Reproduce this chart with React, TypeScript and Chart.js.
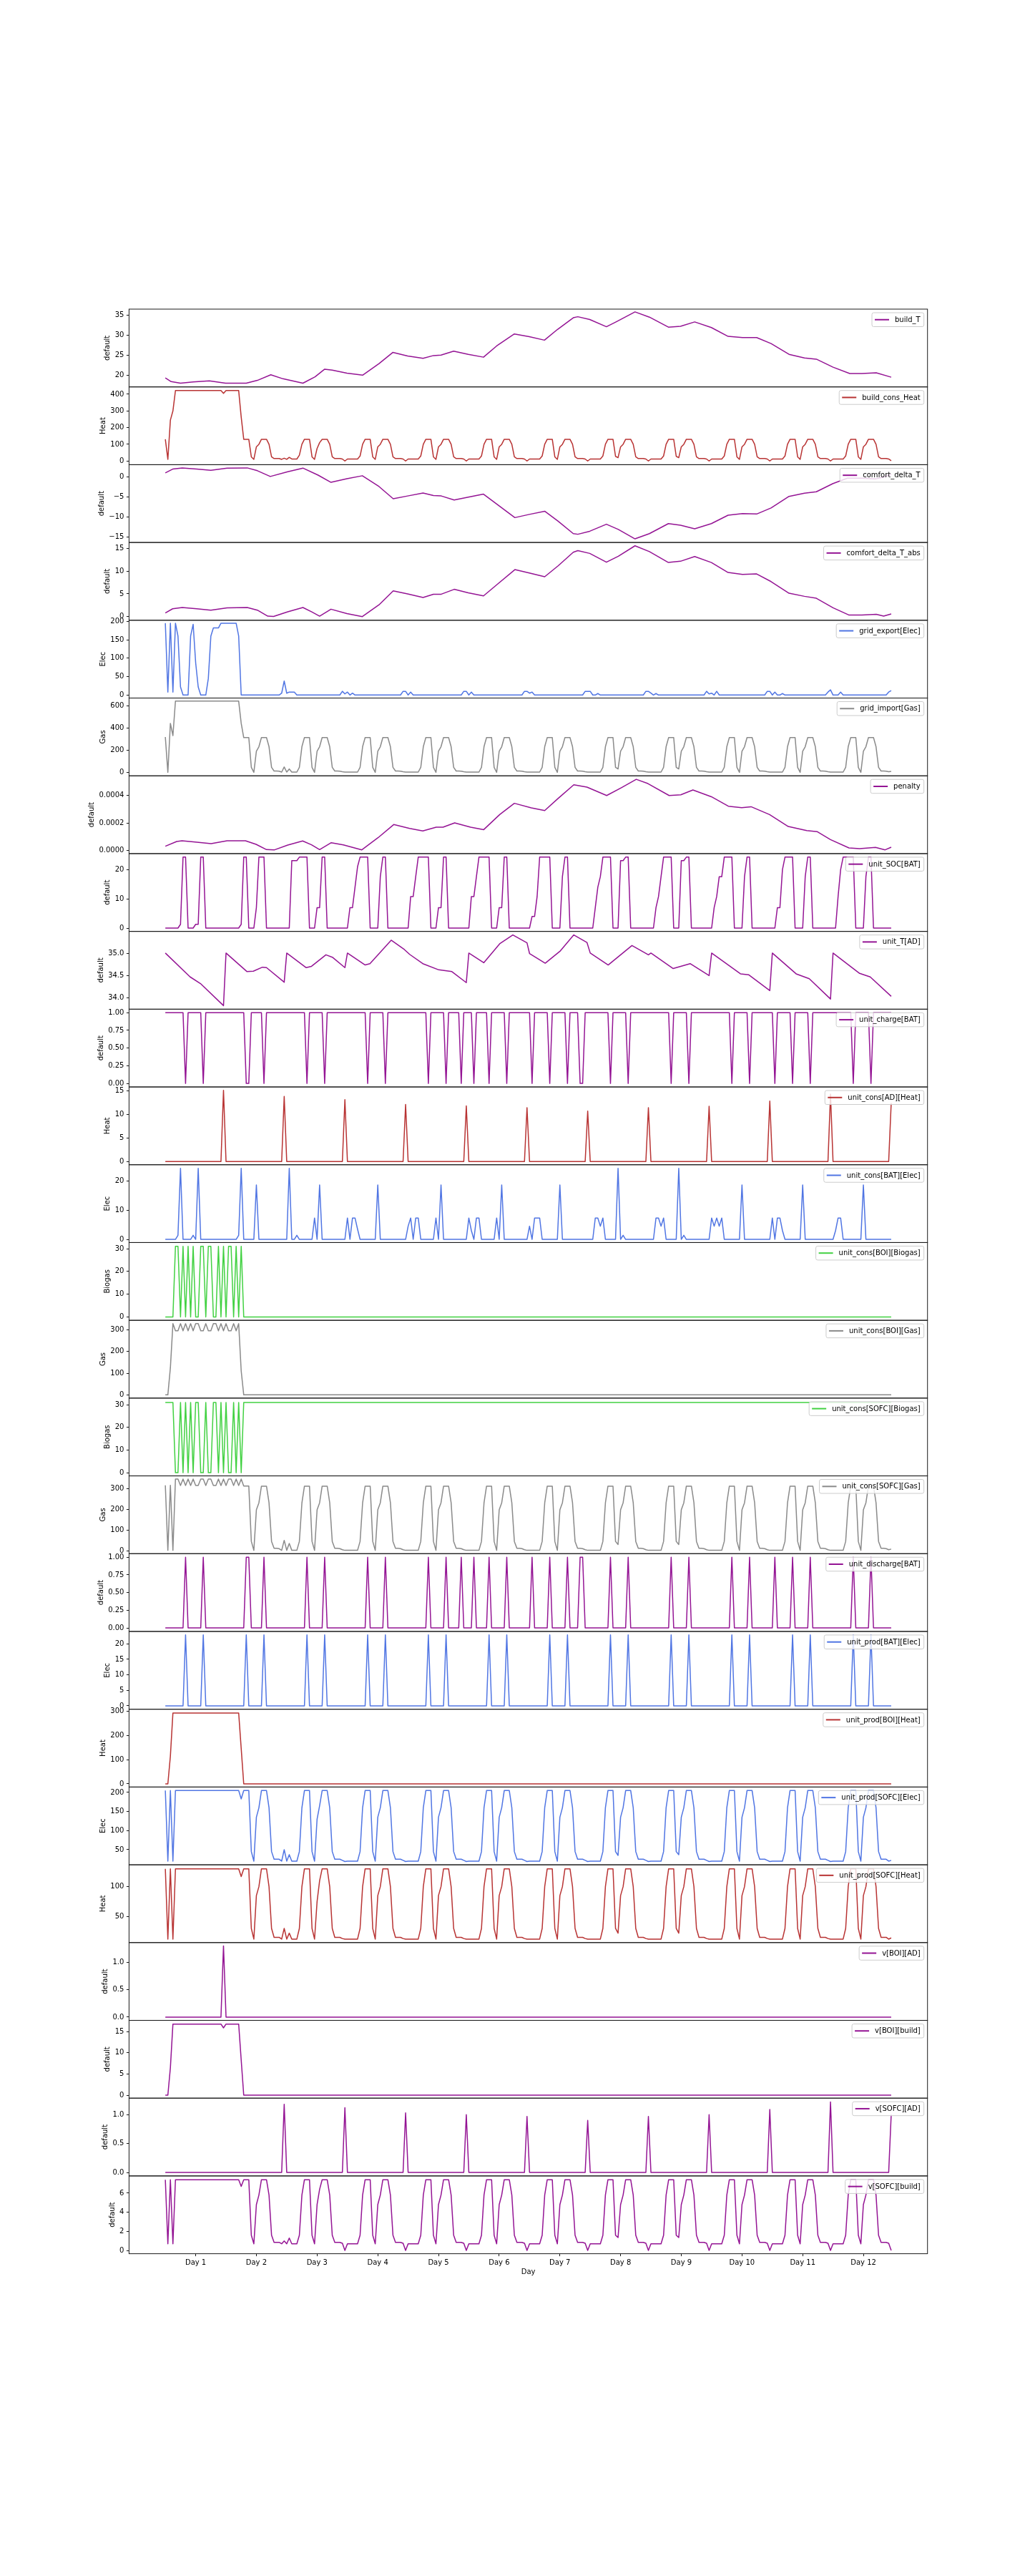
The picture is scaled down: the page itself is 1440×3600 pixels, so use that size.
import React, { useEffect, useRef } from 'react';
import { Chart, registerables } from 'chart.js';

Chart.register(...registerables);

const FONT = '"DejaVu Sans", sans-serif';
const FIRST_HOUR = 12;
const X_MIN = -2.35;
const X_MAX = 313.35;
const DAY_TICKS = [24, 48, 72, 96, 120, 144, 168, 192, 216, 240, 264, 288];
const DAY_LABELS = ['Day 1', 'Day 2', 'Day 3', 'Day 4', 'Day 5', 'Day 6', 'Day 7', 'Day 8', 'Day 9', 'Day 10', 'Day 11', 'Day 12'];

const PURPLE = 'rgba(139,0,139,0.92)';
const RED = 'rgba(178,34,34,0.92)';
const BLUE = 'rgba(65,105,225,0.92)';
const GRAY = 'rgba(128,128,128,0.92)';
const GREEN = 'rgba(50,205,50,0.92)';

// ---------- smooth series: [hour, value] ----------
const BUILD_T = [[12,19.3],[14.3,18.4],[18,18.0],[23,18.3],[29.4,18.6],[35.8,18.0],[44,18.0],[48.4,18.7],[53.7,20.1],[58.5,19.1],[66.4,18.0],[71.2,19.6],[75,21.5],[78,21.25],[83.8,20.5],[90,20.0],[96.5,22.9],[102,25.7],[107.8,24.8],[113.9,24.2],[118,24.9],[121,25.0],[126,26.0],[131.8,25.2],[137.8,24.5],[143,27.3],[150,30.3],[155.9,29.6],[161.9,28.75],[167,31.4],[173.3,34.35],[175.1,34.6],[179.8,33.9],[186.4,32.1],[190.2,33.3],[197.7,35.8],[203.4,34.5],[210.9,32.0],[215.7,32.2],[221.3,33.3],[227.9,31.9],[234.5,29.7],[240.2,29.4],[245.8,29.4],[251.5,27.9],[258.6,25.2],[264.7,24.3],[269.4,24.0],[276,22.0],[282.6,20.4],[287.4,20.4],[293.1,20.6],[299,19.5]];

const COMFORT_DELTA_T = [[12,0.95],[14.9,1.9],[18.7,2.2],[24.4,1.9],[30,1.6],[36.4,2.15],[44.4,2.2],[48.4,1.5],[53.5,0.06],[60.4,1.25],[66.4,2.15],[72.4,0.4],[77.5,-1.4],[83.8,-0.5],[89.9,0.24],[96.5,-2.45],[102.1,-5.5],[107.8,-4.8],[113.9,-4.05],[118,-4.7],[121.1,-4.8],[126.2,-5.8],[131.8,-5.1],[137.8,-4.35],[143.2,-6.9],[150.2,-10.2],[155.9,-9.4],[162,-8.6],[167.3,-11.1],[173.3,-14.2],[175.1,-14.35],[179.8,-13.6],[186.4,-11.85],[191.1,-13.15],[197.7,-15.5],[203.4,-14.2],[210.9,-11.7],[215.7,-12.1],[221.3,-13.0],[227.9,-11.7],[234.5,-9.6],[240.2,-9.2],[245.8,-9.3],[251.5,-7.8],[258.6,-4.9],[264.7,-4.1],[269.4,-3.75],[276,-1.7],[281.7,-0.37],[287,-0.37],[293,-0.52],[296,-0.1],[299,0.58]];

const COMFORT_DELTA_T_ABS = [[12,0.8],[14.9,1.73],[18.7,2.0],[24.4,1.73],[30,1.42],[36.4,1.94],[44.4,2.0],[48.4,1.42],[52.5,0.1],[54.8,0.05],[60.4,1.05],[66.4,2.0],[69.9,1.05],[73,0.1],[77.5,1.63],[83.8,0.68],[89.9,0.0],[96.5,2.6],[102.1,5.66],[107.8,4.98],[113.9,4.2],[118,4.9],[121.1,4.93],[126.2,6.0],[131.8,5.24],[137.8,4.56],[143.2,7.08],[150.2,10.33],[155.9,9.6],[162,8.76],[167.3,11.17],[173.3,14.16],[175.1,14.5],[179.8,13.9],[186.4,11.96],[191.1,13.27],[197.7,15.57],[203.4,14.3],[210.9,11.9],[215.7,12.17],[221.3,13.2],[227.9,11.9],[234.5,9.7],[240.2,9.28],[245.8,9.39],[251.5,7.7],[258.6,5.14],[264.7,4.46],[269.4,4.04],[276,1.94],[282.2,0.37],[287.4,0.37],[293.1,0.52],[296,0.1],[299,0.58]];

const PENALTY = [[12,0.0000296],[16.5,0.0000643],[18.6,0.0000696],[23.8,0.0000609],[30.1,0.0000487],[36.4,0.0000696],[43.7,0.0000696],[47.9,0.0000435],[52,0.0000052],[55.2,0.0000035],[60.4,0.000038],[66.3,0.000068],[69.8,0.00004],[73,0.0000052],[77.6,0.0000557],[82.4,0.00004],[89.7,0.0000035],[96.1,0.000092],[102.3,0.000188],[108.6,0.00016],[113.8,0.000141],[119.1,0.000169],[121.8,0.000169],[126.4,0.0002],[132.7,0.000169],[137.9,0.000151],[144.2,0.000261],[150,0.000343],[156.7,0.00031],[162,0.00029],[167.2,0.000377],[173.5,0.000478],[178.7,0.000461],[186.5,0.0004],[192.3,0.000457],[198.2,0.000518],[202.8,0.000487],[211.2,0.0004],[215.8,0.000405],[220.6,0.00044],[227.9,0.000391],[234.6,0.000322],[239.9,0.000311],[243.6,0.000318],[250.9,0.000261],[258.3,0.000174],[265.6,0.000144],[269.8,0.000136],[275,0.000078],[282.3,0.0000174],[286.5,0.000012],[292.8,0.0000209],[296.6,0.0000035],[299,0.0000226]];

const UNIT_T_AD = [[12,35.01],[21.8,34.47],[25.9,34.32],[35,33.82],[36,35.01],[44.3,34.59],[46.8,34.6],[50.4,34.69],[52,34.68],[59,34.35],[60,35.01],[67.7,34.68],[69.8,34.71],[75.5,34.97],[78.2,34.91],[83,34.68],[84,35.01],[91,34.74],[92.9,34.77],[101.3,35.3],[106.5,35.09],[108.6,34.98],[113.8,34.77],[120.1,34.63],[125.3,34.59],[131,34.34],[132,35.01],[137.9,34.79],[144.2,35.22],[149.4,35.42],[155,35.24],[156,35.0],[162.2,34.78],[168.2,35.06],[173.5,35.42],[178.7,35.25],[180,35.01],[187.1,34.74],[196.5,35.18],[203,34.97],[204,35.01],[212.8,34.66],[219.5,34.77],[227,34.5],[228,35.01],[239.4,34.54],[242.6,34.52],[251,34.16],[252,35.01],[261.4,34.54],[266.6,34.43],[275,33.97],[276,35.01],[286.5,34.55],[290.7,34.47],[299,34.03]];

// ---------- sparse spiky series: [hour, value] ----------
const AD_HEAT = [[12,0],[34,0],[35,15.1],[36,0],[58,0],[59,13.8],[60,0],[82,0],[83,13.1],[84,0],[106,0],[107,12.1],[108,0],[130,0],[131,11.8],[132,0],[154,0],[155,11.4],[156,0],[178,0],[179,10.7],[180,0],[202,0],[203,11.4],[204,0],[226,0],[227,11.7],[228,0],[250,0],[251,12.8],[252,0],[274,0],[275,14.3],[276,0],[298,0],[299,12.4]];

const V_SOFC_AD = [[12,0],[58,0],[59,1.18],[60,0],[82,0],[83,1.12],[84,0],[106,0],[107,1.03],[108,0],[130,0],[131,1.0],[132,0],[154,0],[155,0.97],[156,0],[178,0],[179,0.9],[180,0],[202,0],[203,0.97],[204,0],[226,0],[227,1.0],[228,0],[250,0],[251,1.09],[252,0],[274,0],[275,1.22],[276,0],[298,0],[299,1.0]];

const V_BOI_AD = [[12,0],[34,0],[35,1.3],[36,0],[299,0]];

const DISCHARGE = [[12,0],[19,0],[20,1],[21,0],[26,0],[27,1],[28,0],[43,0],[44,1],[45,1],[46,0],[50,0],[51,1],[52,0],[67,0],[68,1],[69,0],[74,0],[75,1],[76,0],[91,0],[92,1],[93,0],[98,0],[99,1],[100,0],[115,0],[116,1],[117,0],[122,0],[123,1],[124,0],[128,0],[129,1],[130,0],[133,0],[134,1],[135,0],[139,0],[140,1],[141,0],[146,0],[147,1],[148,0],[156,0],[157,1],[158,0],[163,0],[164,1],[165,0],[170,0],[171,1],[172,0],[175,0],[176,1],[177,1],[178,0],[187,0],[188,1],[189,0],[194,0],[195,1],[196,0],[211,0],[212,1],[213,0],[218,0],[219,1],[220,0],[235,0],[236,1],[237,0],[242,0],[243,1],[244,0],[252,0],[253,1],[254,0],[259,0],[260,1],[261,0],[266,0],[267,1],[268,0],[283,0],[284,1],[285,0],[290,0],[291,1],[292,0],[299,0]];

const CHARGE = [[12,1],[19,1],[20,0],[21,1],[26,1],[27,0],[28,1],[43,1],[44,0],[45,0],[46,1],[50,1],[51,0],[52,1],[67,1],[68,0],[69,1],[74,1],[75,0],[76,1],[91,1],[92,0],[93,1],[98,1],[99,0],[100,1],[115,1],[116,0],[117,1],[122,1],[123,0],[124,1],[128,1],[129,0],[130,1],[133,1],[134,0],[135,1],[139,1],[140,0],[141,1],[146,1],[147,0],[148,1],[156,1],[157,0],[158,1],[163,1],[164,0],[165,1],[170,1],[171,0],[172,1],[175,1],[176,0],[177,0],[178,1],[187,1],[188,0],[189,1],[194,1],[195,0],[196,1],[211,1],[212,0],[213,1],[218,1],[219,0],[220,1],[235,1],[236,0],[237,1],[242,1],[243,0],[244,1],[252,1],[253,0],[254,1],[259,1],[260,0],[261,1],[266,1],[267,0],[268,1],[283,1],[284,0],[285,1],[290,1],[291,0],[292,1],[299,1]];

const PROD_BAT = [[12,0],[19,0],[20,22.9],[21,0],[26,0],[27,22.9],[28,0],[43,0],[44,22.9],[45,0],[50,0],[51,22.9],[52,0],[67,0],[68,22.9],[69,0],[74,0],[75,22.9],[76,0],[91,0],[92,22.9],[93,0],[98,0],[99,22.9],[100,0],[115,0],[116,22.9],[117,0],[122,0],[123,22.9],[124,0],[139,0],[140,22.9],[141,0],[146,0],[147,22.9],[148,0],[163,0],[164,22.9],[165,0],[170,0],[171,22.9],[172,0],[187,0],[188,22.9],[189,0],[194,0],[195,22.9],[196,0],[211,0],[212,22.9],[213,0],[218,0],[219,22.9],[220,0],[235,0],[236,22.9],[237,0],[242,0],[243,22.9],[244,0],[259,0],[260,22.9],[261,0],[266,0],[267,22.9],[268,0],[283,0],[284,22.9],[285,0],[290,0],[291,22.9],[292,0],[299,0]];

const BOI_BIOGAS = [[12,0],[15,0],[16,31],[17,31],[18,0],[19,31],[20,0],[21,31],[22,0],[23,31],[24,0],[25,0],[26,31],[27,31],[28,0],[29,31],[30,31],[31,0],[32,0],[33,31],[34,0],[35,31],[36,0],[37,31],[38,31],[39,0],[40,31],[41,0],[42,31],[43,0],[299,0]];

const SOFC_BIOGAS = [[12,31],[15,31],[16,0],[17,0],[18,31],[19,0],[20,31],[21,0],[22,31],[23,0],[24,31],[25,31],[26,0],[27,0],[28,31],[29,0],[30,0],[31,31],[32,31],[33,0],[34,31],[35,0],[36,31],[37,0],[38,0],[39,31],[40,0],[41,31],[42,0],[43,31],[299,31]];

const BOI_GAS = [[12,0],[13,0],[14,125],[15,328],[16,295],[17,295],[18,328],[19,295],[20,328],[21,295],[22,328],[23,295],[24,328],[25,328],[26,295],[27,295],[28,328],[29,295],[30,295],[31,328],[32,328],[33,295],[34,328],[35,295],[36,328],[37,295],[38,295],[39,328],[40,295],[41,328],[42,110],[43,0],[299,0]];

const BOI_HEAT = [[12,0],[13,0],[14,115],[15,293],[41,293],[42,146],[43,0],[299,0]];

const V_BOI_BUILD = [[12,0],[13,0],[14,6.5],[15,16.8],[34,16.8],[35,15.9],[36,16.8],[41,16.8],[42,8.3],[43,0],[299,0]];

// ---------- hourly series: one row per 24 h, row k starts at hour 12 + 24k ----------
const BUILD_CONS_HEAT = [
  [130,10,245,300,422,422,422,422,422,422,422,422,422,422,422,422,422,422,422,422,422,422,422,405],
  [422,422,422,422,422,422,263,130,130,130,25,10,85,100,130,130,130,100,25,15,15,15,10,17],
  [10,22,12,12,12,35,100,130,130,130,25,10,75,110,130,130,130,100,25,15,15,15,12,0],
  [12,12,12,12,12,30,100,130,130,130,25,10,85,100,130,130,130,100,25,15,15,15,12,0],
  [12,12,12,12,12,30,100,130,130,130,25,10,85,100,130,130,130,100,25,15,15,15,12,0],
  [12,12,12,12,12,30,100,130,130,130,25,10,85,100,130,130,130,100,25,15,15,15,12,0],
  [12,12,12,12,12,30,100,130,130,130,25,10,85,100,130,130,130,100,25,15,15,15,12,0],
  [12,12,12,12,12,30,100,130,130,130,28,20,85,100,130,130,130,100,25,15,15,15,12,0],
  [12,12,12,12,12,30,100,130,130,130,28,20,85,100,130,130,130,100,25,15,15,15,12,0],
  [12,12,12,12,12,30,100,130,130,130,25,10,85,100,130,130,130,100,25,15,15,15,12,0],
  [12,12,12,12,12,30,100,130,130,130,25,10,85,100,130,130,130,100,25,15,15,15,12,0],
  [12,12,12,12,12,30,100,130,130,130,25,10,85,100,130,130,130,100,25,15,15,15,12,2],
];

const GRID_EXPORT = [
  [195,8,195,8,195,160,22,0,0,0,160,192,87,22,0,0,0,45,160,182,182,182,195,195],
  [195,195,195,195,195,160,0,0,0,0,0,0,0,0,0,0,0,0,0,0,0,0,5,38],
  [5,8,8,8,0,0,0,0,0,0,0,0,0,0,0,0,0,0,0,0,0,0,10,3],
  [8,0,5,0,0,0,0,0,0,0,0,0,0,0,0,0,0,0,0,0,0,0,10,10],
  [0,8,0,0,0,0,0,0,0,0,0,0,0,0,0,0,0,0,0,0,0,0,10,10],
  [0,8,0,0,0,0,0,0,0,0,0,0,0,0,0,0,0,0,0,0,0,0,10,10],
  [5,8,0,0,0,0,0,0,0,0,0,0,0,0,0,0,0,0,0,0,0,0,10,10],
  [10,0,0,4,0,0,0,0,0,0,0,0,0,0,0,0,0,0,0,0,0,0,10,10],
  [5,0,4,0,0,0,0,0,0,0,0,0,0,0,0,0,0,0,0,0,0,0,10,3],
  [5,0,10,0,0,0,0,0,0,0,0,0,0,0,0,0,0,0,0,0,0,0,10,10],
  [0,8,0,0,4,0,0,0,0,0,0,0,0,0,0,0,0,0,0,0,0,0,8,14],
  [0,0,0,8,0,0,0,0,0,0,0,0,0,0,0,0,0,0,0,0,0,0,8,12],
];

const GRID_IMPORT = [
  [317,0,440,330,640,640,640,640,640,640,640,640,640,640,640,640,640,640,640,640,640,640,640,640],
  [640,640,640,640,640,640,440,312,312,312,45,0,190,230,312,312,312,230,45,12,12,10,2,48],
  [2,30,2,2,2,45,230,312,312,312,45,0,190,230,312,312,312,230,45,12,12,10,5,2],
  [2,2,2,2,2,45,230,312,312,312,45,0,190,230,312,312,312,230,45,12,12,10,5,2],
  [2,2,2,2,2,45,230,312,312,312,45,0,190,230,312,312,312,230,45,12,12,10,5,2],
  [2,2,2,2,2,45,230,312,312,312,45,0,190,230,312,312,312,230,45,12,12,10,5,2],
  [2,2,2,2,2,45,230,312,312,312,45,0,190,230,312,312,312,230,45,12,12,10,5,2],
  [2,2,2,2,2,45,230,312,312,312,45,30,190,230,312,312,312,230,45,12,12,10,5,2],
  [2,2,2,2,2,45,230,312,312,312,45,30,190,230,312,312,312,230,45,12,12,10,5,2],
  [2,2,2,2,2,45,230,312,312,312,45,0,190,230,312,312,312,230,45,12,12,10,5,2],
  [2,2,2,2,2,45,230,312,312,312,45,0,190,230,312,312,312,230,45,12,12,10,5,2],
  [2,2,2,2,2,45,230,312,312,312,45,0,190,230,312,312,312,230,45,12,12,10,5,8],
];

const UNIT_SOC_BAT = [
  [0,0,0,0,0,0,1.3,24.3,24.3,0,0,0,1.3,1.3,24.3,24.3,0,0,0,0,0,0,0,0],
  [0,0,0,0,0,0,1.3,24.3,24.3,0,0,0,7,24.3,24.3,24.3,0,0,0,0,0,0,0,0],
  [0,0,23.1,23.1,23.1,24.3,24.3,24.3,24.3,0,0,0,7,7,24.3,24.3,0,0,0,0,0,0,0,0],
  [0,7,7,14,21,24.3,24.3,24.3,24.3,0,0,0,0,17.6,24.3,24.3,0,0,0,0,0,0,0,0],
  [0,10.8,10.8,17.6,24.3,24.3,24.3,24.3,24.3,0,0,0,7,7,24.3,24.3,0,0,0,0,0,0,0,0],
  [0,10.8,10.8,17.6,24.3,24.3,24.3,24.3,24.3,0,0,0,7,7,24.3,24.3,0,0,0,0,0,0,0,0],
  [0,4,4,10.8,24.3,24.3,24.3,24.3,24.3,0,0,0,0,17.6,24.3,24.3,0,0,0,0,0,0,0,0],
  [0,0,7,14,17.6,24.3,24.3,24.3,24.3,0,0,0,23.1,23.1,24.3,24.3,0,0,0,0,0,0,0,0],
  [0,0,7,10.8,17.6,24.3,24.3,24.3,24.3,0,0,0,23.1,23.1,24.3,24.3,0,0,0,0,0,0,0,0],
  [0,7,10.8,17.6,17.6,24.3,24.3,24.3,24.3,0,0,0,0,17.6,24.3,24.3,0,0,0,0,0,0,0,0],
  [0,0,7,7,20,24.3,24.3,24.3,24.3,0,0,0,0,17.6,24.3,24.3,0,0,0,0,0,0,0,0],
  [0,0,10.8,20,24.3,24.3,24.3,24.3,24.3,0,0,0,0,17.6,24.3,24.3,0,0,0,0,0,0,0,0],
];

const CONS_BAT_ELEC = [
  [0,0,0,0,0,1.4,24.3,0,0,0,0,1.4,0,24.3,0,0,0,0,0,0,0,0,0,0],
  [0,0,0,0,0,1.4,24.3,0,0,0,0,0,18.6,0,0,0,0,0,0,0,0,0,0,0],
  [0,24.3,0,0,1.4,0,0,0,0,0,0,7.3,0,18.6,0,0,0,0,0,0,0,0,0,0],
  [7.3,0,7.3,7.3,3.5,0,0,0,0,0,0,0,18.6,0,0,0,0,0,0,0,0,0,0,0],
  [4.5,7.3,0,7.3,7.3,0,0,0,0,0,0,7.3,0,18.6,0,0,0,0,0,0,0,0,0,0],
  [7.3,3,0,7.3,7.3,0,0,0,0,0,0,7.3,0,18.6,0,0,0,0,0,0,0,0,0,0],
  [4.5,0,7.3,7.3,7.3,0,0,0,0,0,0,0,18.6,0,0,0,0,0,0,0,0,0,0,0],
  [0,0,7.3,7.3,4.5,7.3,0,0,0,0,0,24.3,0,1.4,0,0,0,0,0,0,0,0,0,0],
  [0,0,7.3,7.3,4.5,7.3,0,0,0,0,0,24.3,0,1.4,0,0,0,0,0,0,0,0,0,0],
  [7.3,4.5,7.3,4.5,7.3,0,0,0,0,0,0,0,18.6,0,0,0,0,0,0,0,0,0,0,0],
  [7.3,0,7.3,7.3,3,0,0,0,0,0,0,0,18.6,0,0,0,0,0,0,0,0,0,0,0],
  [0,3,7.3,7.3,0,0,0,0,0,0,0,0,18.6,0,0,0,0,0,0,0,0,0,0,0],
];

const CONS_SOFC_GAS = [
  [315,2,315,2,345,345,314,345,314,345,314,345,314,314,345,345,314,345,345,314,314,345,314,345],
  [314,345,345,314,345,314,345,312,312,312,45,2,197,231,311,311,311,231,45,12,12,10,2,50],
  [2,35,2,2,2,45,230,311,311,311,45,2,197,231,311,311,311,231,45,12,12,10,5,2],
  [2,2,2,2,2,45,230,311,311,311,45,2,197,231,311,311,311,231,45,12,12,10,5,2],
  [2,2,2,2,2,45,230,311,311,311,45,2,197,231,311,311,311,231,45,12,12,10,5,2],
  [2,2,2,2,2,45,230,311,311,311,45,2,197,231,311,311,311,231,45,12,12,10,5,2],
  [2,2,2,2,2,45,230,311,311,311,45,2,197,231,311,311,311,231,45,12,12,10,5,2],
  [2,2,2,2,2,45,230,311,311,311,45,30,197,231,311,311,311,231,45,12,12,10,5,2],
  [2,2,2,2,2,45,230,311,311,311,45,30,197,231,311,311,311,231,45,12,12,10,5,2],
  [2,2,2,2,2,45,230,311,311,311,45,2,197,231,311,311,311,231,45,12,12,10,5,2],
  [2,2,2,2,2,45,230,311,311,311,45,2,197,231,311,311,311,231,45,12,12,10,5,2],
  [2,2,2,2,2,45,230,311,311,311,45,2,197,231,311,311,311,231,45,12,12,10,5,8],
];

const PROD_SOFC_ELEC = [
  [205,20,205,20,205,205,205,205,205,205,205,205,205,205,205,205,205,205,205,205,205,205,205,205],
  [205,205,205,205,205,205,183,205,205,205,45,20,135,160,205,205,205,160,45,25,25,25,20,50],
  [20,37,20,20,20,45,160,205,205,205,45,20,130,165,205,205,205,160,45,25,25,25,22,19],
  [20,20,20,20,20,45,160,205,205,205,45,20,135,160,205,205,205,160,45,25,25,25,22,19],
  [20,20,20,20,20,45,160,205,205,205,45,20,135,160,205,205,205,160,45,25,25,25,22,19],
  [20,20,20,20,20,45,160,205,205,205,45,20,135,160,205,205,205,160,45,25,25,25,22,19],
  [20,20,20,20,20,45,160,205,205,205,45,20,135,160,205,205,205,160,45,25,25,25,22,19],
  [20,20,20,20,20,45,160,205,205,205,45,35,135,160,205,205,205,160,45,25,25,25,22,19],
  [20,20,20,20,20,45,160,205,205,205,45,37,135,160,205,205,205,160,45,25,25,25,22,19],
  [20,20,20,20,20,45,160,205,205,205,45,20,135,160,205,205,205,160,45,25,25,25,22,19],
  [20,20,20,20,20,45,160,205,205,205,45,20,135,160,205,205,205,160,45,25,25,25,22,19],
  [20,20,20,20,20,45,160,205,205,205,45,20,135,160,205,205,205,160,45,25,25,25,20,22],
];

const PROD_SOFC_HEAT = [
  [130,12,130,12,130,130,130,130,130,130,130,130,130,130,130,130,130,130,130,130,130,130,130,130],
  [130,130,130,130,130,130,117,130,130,130,30,12,85,100,130,130,130,100,30,15,15,15,12,30],
  [12,22,12,12,12,30,100,130,130,130,30,12,75,110,130,130,130,100,30,15,15,15,13,12],
  [12,12,12,12,12,30,100,130,130,130,30,12,85,100,130,130,130,100,30,15,15,15,13,12],
  [12,12,12,12,12,30,100,130,130,130,30,12,85,100,130,130,130,100,30,15,15,15,13,12],
  [12,12,12,12,12,30,100,130,130,130,30,12,85,100,130,130,130,100,30,15,15,15,13,12],
  [12,12,12,12,12,30,100,130,130,130,30,12,85,100,130,130,130,100,30,15,15,15,13,12],
  [12,12,12,12,12,30,100,130,130,130,30,22,85,100,130,130,130,100,30,15,15,15,13,12],
  [12,12,12,12,12,30,100,130,130,130,30,22,85,100,130,130,130,100,30,15,15,15,13,12],
  [12,12,12,12,12,30,100,130,130,130,30,12,85,100,130,130,130,100,30,15,15,15,13,12],
  [12,12,12,12,12,30,100,130,130,130,30,12,85,100,130,130,130,100,30,15,15,15,13,12],
  [12,12,12,12,12,30,100,130,130,130,30,12,85,100,130,130,130,100,30,15,15,15,12,14],
];

const V_SOFC_BUILD = [
  [7.4,0.7,7.4,0.7,7.4,7.4,7.4,7.4,7.4,7.4,7.4,7.4,7.4,7.4,7.4,7.4,7.4,7.4,7.4,7.4,7.4,7.4,7.4,7.4],
  [7.4,7.4,7.4,7.4,7.4,7.4,6.7,7.4,7.4,7.4,1.6,0.7,4.8,5.8,7.4,7.4,7.4,5.8,1.6,0.85,0.85,0.85,0.7,1.0],
  [0.7,1.3,0.7,0.7,0.7,1.6,5.8,7.4,7.4,7.4,1.6,0.7,4.8,6.4,7.4,7.4,7.4,5.8,1.6,0.85,0.85,0.85,0.75,0],
  [0.7,0.7,0.7,0.7,0.7,1.6,5.8,7.4,7.4,7.4,1.6,0.7,4.8,5.8,7.4,7.4,7.4,5.8,1.6,0.85,0.85,0.85,0.75,0],
  [0.7,0.7,0.7,0.7,0.7,1.6,5.8,7.4,7.4,7.4,1.6,0.7,4.8,5.8,7.4,7.4,7.4,5.8,1.6,0.85,0.85,0.85,0.75,0],
  [0.7,0.7,0.7,0.7,0.7,1.6,5.8,7.4,7.4,7.4,1.6,0.7,4.8,5.8,7.4,7.4,7.4,5.8,1.6,0.85,0.85,0.85,0.75,0],
  [0.7,0.7,0.7,0.7,0.7,1.6,5.8,7.4,7.4,7.4,1.6,0.7,4.8,5.8,7.4,7.4,7.4,5.8,1.6,0.85,0.85,0.85,0.75,0],
  [0.7,0.7,0.7,0.7,0.7,1.6,5.8,7.4,7.4,7.4,1.6,1.35,4.8,5.8,7.4,7.4,7.4,5.8,1.6,0.85,0.85,0.85,0.75,0],
  [0.7,0.7,0.7,0.7,0.7,1.6,5.8,7.4,7.4,7.4,1.6,1.35,4.8,5.8,7.4,7.4,7.4,5.8,1.6,0.85,0.85,0.85,0.75,0],
  [0.7,0.7,0.7,0.7,0.7,1.6,5.8,7.4,7.4,7.4,1.6,0.7,4.8,5.8,7.4,7.4,7.4,5.8,1.6,0.85,0.85,0.85,0.75,0],
  [0.7,0.7,0.7,0.7,0.7,1.6,5.8,7.4,7.4,7.4,1.6,0.7,4.8,5.8,7.4,7.4,7.4,5.8,1.6,0.85,0.85,0.85,0.75,0],
  [0.7,0.7,0.7,0.7,0.7,1.6,5.8,7.4,7.4,7.4,1.6,0.7,4.8,5.8,7.4,7.4,7.4,5.8,1.6,0.85,0.85,0.85,0.75,0],
];

// ---------- helpers ----------
const fromPairs = (p: number[][]) => p.map(([x, y]) => ({ x, y }));
const fromRows = (rows: number[][]) =>
  rows.flatMap((row, k) => row.map((y, j) => ({ x: FIRST_HOUR + 24 * k + j, y })));

const fmt = (v: number, d: number) => {
  const s = Math.abs(v).toFixed(d);
  return v < -1e-12 ? '\u2212' + s : s;
};

type Panel = { name: string; unit: string; color: string; pts: { x: number; y: number }[]; min: number; max: number; ticks: number[]; dec: number };

const PANELS: Panel[] = [
  { name: 'build_T', unit: 'default', color: PURPLE, pts: fromPairs(BUILD_T), min: 17.07, max: 36.5, ticks: [20, 25, 30, 35], dec: 0 },
  { name: 'build_cons_Heat', unit: 'Heat', color: RED, pts: fromRows(BUILD_CONS_HEAT), min: -22, max: 444, ticks: [0, 100, 200, 300, 400], dec: 0 },
  { name: 'comfort_delta_T', unit: 'default', color: PURPLE, pts: fromPairs(COMFORT_DELTA_T), min: -16.4, max: 3.0, ticks: [-15, -10, -5, 0], dec: 0 },
  { name: 'comfort_delta_T_abs', unit: 'default', color: PURPLE, pts: fromPairs(COMFORT_DELTA_T_ABS), min: -0.8, max: 16.3, ticks: [0, 5, 10, 15], dec: 0 },
  { name: 'grid_export[Elec]', unit: 'Elec', color: BLUE, pts: fromRows(GRID_EXPORT), min: -8.2, max: 202.9, ticks: [0, 50, 100, 150, 200], dec: 0 },
  { name: 'grid_import[Gas]', unit: 'Gas', color: GRAY, pts: fromRows(GRID_IMPORT), min: -31.5, max: 667.5, ticks: [0, 200, 400, 600], dec: 0 },
  { name: 'penalty', unit: 'default', color: PURPLE, pts: fromPairs(PENALTY), min: -0.000024, max: 0.0005436, ticks: [0, 0.0002, 0.0004], dec: 4 },
  { name: 'unit_SOC[BAT]', unit: 'default', color: PURPLE, pts: fromRows(UNIT_SOC_BAT), min: -1.13, max: 25.5, ticks: [0, 10, 20], dec: 0 },
  { name: 'unit_T[AD]', unit: 'default', color: PURPLE, pts: fromPairs(UNIT_T_AD), min: 33.74, max: 35.5, ticks: [34, 34.5, 35], dec: 1 },
  { name: 'unit_charge[BAT]', unit: 'default', color: PURPLE, pts: fromPairs(CHARGE), min: -0.05, max: 1.05, ticks: [0, 0.25, 0.5, 0.75, 1], dec: 2 },
  { name: 'unit_cons[AD][Heat]', unit: 'Heat', color: RED, pts: fromPairs(AD_HEAT), min: -0.67, max: 15.8, ticks: [0, 5, 10, 15], dec: 0 },
  { name: 'unit_cons[BAT][Elec]', unit: 'Elec', color: BLUE, pts: fromRows(CONS_BAT_ELEC), min: -1.08, max: 25.5, ticks: [0, 10, 20], dec: 0 },
  { name: 'unit_cons[BOI][Biogas]', unit: 'Biogas', color: GREEN, pts: fromPairs(BOI_BIOGAS), min: -1.5, max: 32.7, ticks: [0, 10, 20, 30], dec: 0 },
  { name: 'unit_cons[BOI][Gas]', unit: 'Gas', color: GRAY, pts: fromPairs(BOI_GAS), min: -14.8, max: 343.5, ticks: [0, 100, 200, 300], dec: 0 },
  { name: 'unit_cons[SOFC][Biogas]', unit: 'Biogas', color: GREEN, pts: fromPairs(SOFC_BIOGAS), min: -1.4, max: 32.9, ticks: [0, 10, 20, 30], dec: 0 },
  { name: 'unit_cons[SOFC][Gas]', unit: 'Gas', color: GRAY, pts: fromRows(CONS_SOFC_GAS), min: -14, max: 360.5, ticks: [0, 100, 200, 300], dec: 0 },
  { name: 'unit_discharge[BAT]', unit: 'default', color: PURPLE, pts: fromPairs(DISCHARGE), min: -0.05, max: 1.05, ticks: [0, 0.25, 0.5, 0.75, 1], dec: 2 },
  { name: 'unit_prod[BAT][Elec]', unit: 'Elec', color: BLUE, pts: fromPairs(PROD_BAT), min: -1.08, max: 24.0, ticks: [0, 5, 10, 15, 20], dec: 0 },
  { name: 'unit_prod[BOI][Heat]', unit: 'Heat', color: RED, pts: fromPairs(BOI_HEAT), min: -13, max: 308.5, ticks: [0, 100, 200, 300], dec: 0 },
  { name: 'unit_prod[SOFC][Elec]', unit: 'Elec', color: BLUE, pts: fromRows(PROD_SOFC_ELEC), min: 10.4, max: 214.3, ticks: [50, 100, 150, 200], dec: 0 },
  { name: 'unit_prod[SOFC][Heat]', unit: 'Heat', color: RED, pts: fromRows(PROD_SOFC_HEAT), min: 6.2, max: 136.7, ticks: [50, 100], dec: 0 },
  { name: 'v[BOI][AD]', unit: 'default', color: PURPLE, pts: fromPairs(V_BOI_AD), min: -0.059, max: 1.36, ticks: [0, 0.5, 1], dec: 1 },
  { name: 'v[BOI][build]', unit: 'default', color: PURPLE, pts: fromPairs(V_BOI_BUILD), min: -0.7, max: 17.67, ticks: [0, 5, 10, 15], dec: 0 },
  { name: 'v[SOFC][AD]', unit: 'default', color: PURPLE, pts: fromPairs(V_SOFC_AD), min: -0.06, max: 1.286, ticks: [0, 0.5, 1], dec: 1 },
  { name: 'v[SOFC][build]', unit: 'default', color: PURPLE, pts: fromRows(V_SOFC_BUILD), min: -0.34, max: 7.8, ticks: [0, 2, 4, 6], dec: 0 },
];

const N = PANELS.length;
const PLOT_TOP = 432;
const PLOT_BOTTOM = 3149.6;
const PLOT_LEFT = 180.4;
const PLOT_RIGHT = 1296.7;
const XAXIS_H = 30;

const panelPlugin = {
  id: 'panelDecor',
  afterDraw(chart: any) {
    const ctx = chart.ctx as CanvasRenderingContext2D;
    const ca = chart.chartArea;
    ctx.save();
    PANELS.forEach((p, i) => {
      const sc = chart.scales['y' + i];
      const top = sc.top;
      const bottom = sc.bottom;
      ctx.strokeStyle = '#1a1a1a';
      ctx.lineWidth = 1;
      ctx.strokeRect(ca.left, top, ca.right - ca.left, bottom - top);
      ctx.font = `10px ${FONT}`;
      let maxW = 0;
      for (const t of sc.ticks) maxW = Math.max(maxW, ctx.measureText(String(t.label)).width);
      const lx = ca.left - 7 - maxW - 4 - 6;
      ctx.save();
      ctx.translate(lx, (top + bottom) / 2);
      ctx.rotate(-Math.PI / 2);
      ctx.fillStyle = '#000';
      ctx.textAlign = 'center';
      ctx.textBaseline = 'middle';
      ctx.fillText(p.unit, 0, 0);
      ctx.restore();
      const tw = ctx.measureText(p.name).width;
      const bw = 4 + 20 + 8 + tw + 5;
      const bh = 19.5;
      const bx = ca.right - 5 - bw;
      const by = top + 5;
      ctx.beginPath();
      const r = 2.5;
      ctx.moveTo(bx + r, by);
      ctx.lineTo(bx + bw - r, by);
      ctx.quadraticCurveTo(bx + bw, by, bx + bw, by + r);
      ctx.lineTo(bx + bw, by + bh - r);
      ctx.quadraticCurveTo(bx + bw, by + bh, bx + bw - r, by + bh);
      ctx.lineTo(bx + r, by + bh);
      ctx.quadraticCurveTo(bx, by + bh, bx, by + bh - r);
      ctx.lineTo(bx, by + r);
      ctx.quadraticCurveTo(bx, by, bx + r, by);
      ctx.closePath();
      ctx.fillStyle = 'rgba(255,255,255,0.8)';
      ctx.fill();
      ctx.strokeStyle = '#cccccc';
      ctx.lineWidth = 1;
      ctx.stroke();
      const cy = by + bh / 2;
      ctx.strokeStyle = p.color;
      ctx.lineWidth = 2;
      ctx.beginPath();
      ctx.moveTo(bx + 4, cy);
      ctx.lineTo(bx + 24, cy);
      ctx.stroke();
      ctx.fillStyle = '#000';
      ctx.textAlign = 'left';
      ctx.textBaseline = 'middle';
      ctx.fillText(p.name, bx + 32, cy + 0.5);
    });
    ctx.font = `10px ${FONT}`;
    ctx.fillStyle = '#000';
    ctx.textAlign = 'center';
    ctx.textBaseline = 'middle';
    ctx.fillText('Day', (ca.left + ca.right) / 2, ca.bottom + 26);
    ctx.restore();
  },
};

export default function App() {
  const ref = useRef<HTMLCanvasElement | null>(null);

  useEffect(() => {
    if (!ref.current) return;
    const scales: any = {
      x: {
        type: 'linear',
        position: 'bottom',
        min: X_MIN,
        max: X_MAX,
        afterFit: (s: any) => { s.height = XAXIS_H; },
        afterBuildTicks: (s: any) => { s.ticks = DAY_TICKS.map((v) => ({ value: v })); },
        ticks: {
          autoSkip: false,
          maxRotation: 0,
          padding: 3,
          color: '#000',
          font: { family: FONT, size: 10 },
          callback: (v: any) => DAY_LABELS[DAY_TICKS.indexOf(Number(v))] ?? '',
        },
        grid: { display: true, drawOnChartArea: false, drawTicks: true, tickLength: 3.5, color: '#1a1a1a', lineWidth: 1 },
        border: { display: false },
      },
    };
    PANELS.forEach((p, i) => {
      scales['y' + i] = {
        type: 'linear',
        position: 'left',
        stack: 'panels',
        stackWeight: 1,
        weight: N - i,
        min: p.min,
        max: p.max,
        afterFit: (s: any) => { s.width = PLOT_LEFT; },
        afterBuildTicks: (s: any) => { s.ticks = p.ticks.map((v) => ({ value: v })); },
        ticks: {
          autoSkip: false,
          padding: 3.5,
          color: '#000',
          font: { family: FONT, size: 10 },
          callback: (v: any) => fmt(Number(v), p.dec),
        },
        grid: { display: true, drawOnChartArea: false, drawTicks: true, tickLength: 3.5, color: '#1a1a1a', lineWidth: 1 },
        border: { display: false },
      };
    });

    const chart = new Chart(ref.current, {
      type: 'line',
      data: {
        datasets: PANELS.map((p, i) => ({
          label: p.name,
          data: p.pts,
          borderColor: p.color,
          backgroundColor: p.color,
          borderWidth: 1.5,
          pointRadius: 0,
          tension: 0,
          fill: false,
          borderJoinStyle: 'round' as const,
          yAxisID: 'y' + i,
          xAxisID: 'x',
        })),
      },
      options: {
        responsive: false,
        devicePixelRatio: 1,
        animation: false,
        layout: { padding: { top: PLOT_TOP, left: 0, right: 1440 - PLOT_RIGHT, bottom: 3600 - PLOT_BOTTOM - XAXIS_H } },
        plugins: { legend: { display: false }, tooltip: { enabled: false } },
        events: [],
        scales,
      },
      plugins: [panelPlugin],
    });
    return () => chart.destroy();
  }, []);

  return (
    <canvas
      ref={ref}
      width={1440}
      height={3600}
      style={{ position: 'absolute', left: 0, top: 0, width: 1440, height: 3600, background: '#fff' }}
    />
  );
}
